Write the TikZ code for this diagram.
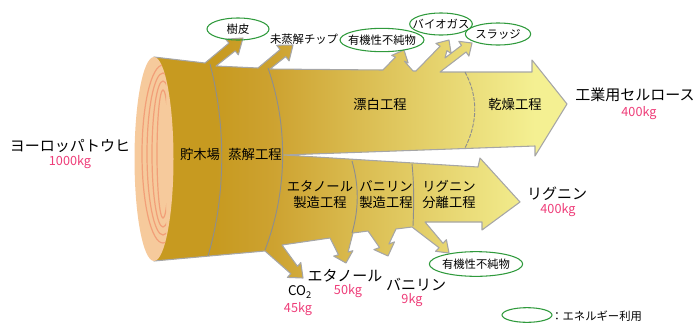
\documentclass[tikz,border=0pt]{standalone}
\usepackage{fontspec}
\setmainfont{Noto Sans CJK JP}
\usetikzlibrary{shapes.geometric}
\definecolor{logdark}{HTML}{C79A20}
\definecolor{logmid}{HTML}{CDA230}
\definecolor{palegold}{HTML}{F4F092}
\definecolor{edgegray}{HTML}{A6A6A6}
\definecolor{divgray}{HTML}{8E8E8E}
\definecolor{facepeach}{HTML}{F6CA9C}
\definecolor{ringorange}{HTML}{F29F78}
\definecolor{energygreen}{HTML}{2F9A3C}
\definecolor{masspink}{HTML}{EE3C78}

% Outline of the log and its two process streams, with all side branches
\def\logoutline{(154,57) -- (205,63) -- (228.9,43.1) -- (225.7,39.2) -- (243,38) -- (238.3,54.8) -- (235.2,50.9) -- (216,66)
 -- (258,68) -- (280.1,49.6) -- (276.7,45.3) -- (293,45) -- (289.1,60.9) -- (285.7,56.6) -- (270,69)
 -- (383,70) -- (395.4,57.1) -- (391.7,55.4) -- (404,50) -- (408.1,62.8) -- (404.4,61.2) -- (413,71)
 -- (416,71) -- (440.1,46.2) -- (435.9,43.4) -- (449,40) -- (451.1,53.4) -- (446.9,50.6) -- (445,58)
 -- (461.5,45.4) -- (458.7,41.3) -- (472,43) -- (468.9,56.1) -- (466.1,52) -- (440,72)
 -- (532,72) -- (532,60) -- (567,104) -- (535,156) -- (535,146) -- (284,155)
 -- (478,167) -- (480,158) -- (520,202) -- (482,230) -- (482,222)
 -- (425,222) -- (443,243.3) -- (446.4,239.7) -- (449,253) -- (435.6,251.3) -- (439,247.7) -- (412,227)
 -- (396,229) -- (388.9,244) -- (394.5,241.9) -- (388,256) -- (373.9,249.6) -- (379.5,247.5) -- (368,231)
 -- (353,233) -- (348.1,252) -- (352.9,250.7) -- (346,263) -- (333.7,256.1) -- (338.5,254.8) -- (330,238)
 -- (282,245) -- (297.5,266.3) -- (300.8,262.6) -- (303,278) -- (287.4,277.4) -- (290.8,273.7) -- (265,251)
 -- (154,261) -- cycle}

\begin{document}
\begin{tikzpicture}[x=0.75pt,y=-0.75pt,
  bigtxt/.style={font=\fontsize{11.25}{13}\selectfont, inner sep=0pt},
  steptxt/.style={font=\fontsize{10}{12}\selectfont, inner sep=0pt, align=center},
  smalltxt/.style={font=\fontsize{8.5}{10}\selectfont, inner sep=0pt},
  masstxt/.style={font=\fontsize{9.5}{11}\selectfont, text=masspink, inner sep=0pt},
  energy/.style={ellipse, draw=energygreen, line width=0.8pt, inner sep=0pt},
  divider/.style={draw=divgray, line width=0.7pt},
]
\useasboundingbox (0,0) rectangle (699,322);

% log body and streams, shaded from dark gold to pale yellow
\begin{scope}
  \clip \logoutline;
  \fill[logdark] (130,20) rectangle (215,300);
  \shade[left color=logdark, right color=logmid] (215,20) rectangle (272,300);
  \shade[left color=logmid, right color=palegold] (272,20) rectangle (535,300);
  \fill[palegold] (535,20) rectangle (570,300);
\end{scope}
\draw[edgegray, line width=0.8pt, line join=round] \logoutline;

% boundaries between process stages
\draw[divider] (210,64) .. controls (226,125) and (226,195) .. (208,256);
\draw[divider] (268,68) .. controls (288,125) and (288,190) .. (265,250);
\draw[divider, dash pattern=on 3pt off 1pt] (465,72) .. controls (478,96) and (478,122) .. (465,148);
\draw[divider] (352,161) .. controls (359,185) and (359,209) .. (352,233);
\draw[divider] (412,164) .. controls (414,183) and (414,203) .. (413,226);

% cut face of the log with growth rings
\fill[facepeach] (154,159) ellipse [x radius=19.5, y radius=102];
\begin{scope}
  \clip (154,159) ellipse [x radius=19.5, y radius=102];
  \clip (130,40) rectangle (166,280);
  \foreach \rx/\ry in {21/89, 16/81, 11/73, 6/64}
    \draw[ringorange, line width=0.9pt] (163,154) ellipse [x radius=\rx, y radius=\ry];
\end{scope}

% stage labels
\node[steptxt] (yard) at (200,154) {貯木場};
\node[steptxt] (cook) at (255,154) {蒸解工程};
\node[steptxt] (bleach) at (380,104) {漂白工程};
\node[steptxt] (dry) at (515,104) {乾燥工程};
\node[steptxt] (ethproc) at (320,195) {エタノール\\製造工程};
\node[steptxt] (vanproc) at (386,195) {バニリン\\製造工程};
\node[steptxt] (ligproc) at (449,194) {リグニン\\分離工程};

% inputs and products
\node[bigtxt] (spruce) at (70,146) {ヨーロッパトウヒ};
\node[masstxt] (spruce kg) at (70,162) {1000kg};
\node[bigtxt] (cellulose) at (635,95) {工業用セルロース};
\node[masstxt] (cellulose kg) at (639,113) {400kg};
\node[bigtxt] (lignin) at (557,194) {リグニン};
\node[masstxt] (lignin kg) at (558,210) {400kg};
\node[bigtxt] (ethanol) at (345,276) {エタノール};
\node[masstxt] (ethanol kg) at (348,291) {50kg};
\node[font=\fontsize{10}{12}\selectfont, inner sep=0pt] (co2) at (300,292) {CO\textsubscript{2}};
\node[masstxt] (co2 kg) at (298,309) {45kg};
\node[bigtxt] (vanillin) at (416,285) {バニリン};
\node[masstxt] (vanillin kg) at (412,300) {9kg};
\node[smalltxt] (chips) at (304,39) {未蒸解チップ};

% by-products used for energy
\node[energy, minimum width=46.5pt, minimum height=16.5pt] (bark) at (238,29) {};
\node[smalltxt] at (bark) {樹皮};
\node[energy, minimum width=63pt, minimum height=17.5pt] (impure top) at (382,40) {};
\node[smalltxt] at (impure top) {有機性不純物};
\node[energy, minimum width=47pt, minimum height=16.5pt] (biogas) at (441,24) {};
\node[smalltxt] at (biogas) {バイオガス};
\node[energy, minimum width=49pt, minimum height=16.5pt] (sludge) at (498,34) {};
\node[smalltxt] at (sludge) {スラッジ};
\node[energy, minimum width=70pt, minimum height=18.5pt] (impure low) at (476,264) {};
\node[smalltxt] at (impure low) {有機性不純物};

% legend
\node[energy, minimum width=37.5pt, minimum height=11pt] (legend) at (527,315) {};
\node[smalltxt, anchor=west] (legend text) at (551,316) {：エネルギー利用};
\end{tikzpicture}
\end{document}
